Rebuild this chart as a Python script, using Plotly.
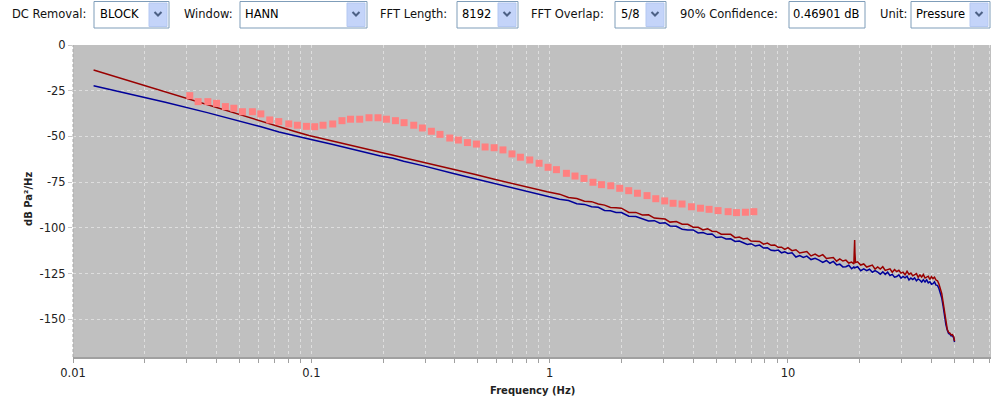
import plotly.graph_objects as go

# ---------------- data ----------------
freq_low = [0.0122, 0.0244, 0.0366, 0.0488, 0.061, 0.0732, 0.0854, 0.0977, 0.122, 0.146, 0.171, 0.195,
            0.22, 0.244, 0.293, 0.342, 0.391, 0.44, 0.488, 0.586, 0.684, 0.781, 0.879, 0.977]
red_low = [-13.7, -25.8, -32.6, -37.6, -41.6, -44.6, -47.3, -49.5, -52.4, -54.8, -57.0, -58.7,
           -60.3, -61.7, -64.1, -66.2, -68.0, -69.5, -70.9, -73.4, -75.5, -77.3, -79.0, -80.3]
blue_low = [-22.3, -31.3, -37.0, -41.2, -44.6, -47.6, -49.8, -51.4, -54.3, -56.8, -58.8, -60.7,
            -62.0, -63.6, -66.0, -68.4, -70.2, -71.8, -73.2, -75.6, -77.8, -79.6, -81.2, -82.6]

freq_mid = [1.1, 1.2, 1.3, 1.4, 1.5, 1.6, 1.7, 1.8, 1.9, 2.0, 2.15, 2.3, 2.45, 2.6, 2.75, 2.9, 3.05,
            3.2, 3.4, 3.6, 3.8, 4.0, 4.2, 4.4, 4.6, 4.8, 5.0, 5.25, 5.5, 5.75, 6.0, 6.25, 6.5, 6.75,
            7.0, 7.3, 7.6, 7.9, 8.2, 8.5, 8.8, 9.1, 9.4, 9.7, 10.0]
red_mid = [-81.6, -83.4, -84.0, -85.5, -85.7, -87.0, -87.6, -88.9, -89.1, -89.3, -91.6, -91.6, -93.0,
           -92.9, -94.7, -95.0, -95.2, -96.9, -96.6, -98.1, -98.1, -99.7, -99.7, -101.2, -100.5,
           -101.9, -102.0, -103.5, -103.5, -103.6, -105.4, -105.1, -106.1, -105.7, -107.3, -107.5,
           -107.5, -109.0, -108.4, -109.6, -109.4, -110.7, -110.6, -111.8, -110.9]
blue_mid = [-84.4, -85.1, -86.8, -87.2, -88.5, -88.8, -90.5, -90.7, -91.6, -91.7, -93.7, -93.8, -95.1,
            -96.3, -96.1, -97.5, -97.2, -99.0, -99.2, -100.8, -101.2, -101.2, -102.8, -102.6, -103.6,
            -103.4, -105.3, -105.0, -106.1, -106.0, -107.5, -107.3, -108.2, -109.1, -108.7, -110.0,
            -109.5, -111.1, -111.0, -112.3, -112.5, -112.2, -113.7, -113.2, -114.0]

freq_high = [10.4, 10.8, 11.2, 11.6, 12.0, 12.5, 13.0, 13.5, 14.0, 14.5, 15.0, 15.5, 16.0, 16.5, 17.0,
             17.5, 18.0, 18.5, 18.9, 19.0, 19.05, 19.1, 19.2, 19.6, 20.2, 20.8, 21.4, 22.0, 22.6,
             23.2, 23.8, 24.4, 25.0, 25.6, 26.2, 26.8, 27.4, 28.0, 28.6, 29.2, 29.8, 30.4, 31.0,
             31.6, 32.2, 32.8, 33.4, 34.0, 34.6, 35.2, 35.8, 36.4, 37.0, 37.6, 38.2, 38.8, 39.4,
             40.0, 40.6, 41.2, 41.8]
red_high = [-112.5, -112.0, -113.8, -113.3, -113.0, -115.4, -114.4, -115.7, -114.7, -116.8, -116.6,
            -116.3, -118.3, -117.0, -118.2, -117.7, -119.3, -118.8, -119.8, -112.0, -106.7, -113.5,
            -119.0, -118.6, -120.4, -119.8, -121.5, -120.9, -120.4, -122.6, -121.4, -122.6, -121.3,
            -123.3, -122.9, -122.5, -124.3, -122.9, -124.0, -123.3, -124.8, -124.3, -125.7, -123.8,
            -125.5, -124.8, -126.3, -125.6, -125.1, -127.1, -125.8, -126.9, -125.6, -127.5, -127.0,
            -126.5, -128.3, -126.7, -127.8, -127.0, -128.6]
blue_high = [-113.7, -116.0, -115.2, -116.2, -115.5, -117.4, -116.7, -117.7, -119.0, -117.9, -119.4,
             -118.4, -120.3, -119.9, -121.4, -121.3, -120.5, -122.4, -121.4, -122.1, -121.6, -121.9,
             -121.7, -121.3, -123.5, -122.5, -123.5, -122.7, -124.3, -123.4, -124.3, -125.4, -124.1,
             -125.5, -124.3, -126.1, -125.5, -127.0, -126.7, -125.8, -127.6, -126.6, -127.4, -126.5,
             -128.6, -127.5, -128.3, -127.4, -129.0, -128.0, -128.7, -129.7, -128.4, -129.7, -128.5,
             -130.1, -129.5, -130.9, -130.6, -129.6, -131.4]

freq_drop = [42.4, 43.0, 43.6, 44.2, 44.8, 45.4, 46.0, 46.6, 47.2, 47.8, 48.4, 49.0, 49.6, 50.0]
red_drop = [-129.0, -130.8, -133.5, -136.0, -141.0, -147.0, -152.0, -155.5, -157.2, -157.6, -158.6,
            -158.4, -159.6, -162.0]
blue_drop = [-131.5, -133.2, -135.8, -138.5, -143.0, -148.5, -153.0, -156.0, -157.8, -158.2, -159.2,
             -159.0, -160.2, -162.5]

pink_f = [0.0309, 0.0335, 0.0368, 0.0400, 0.0436, 0.0473, 0.0514, 0.0566, 0.0614, 0.0669, 0.0730,
          0.0804, 0.0874, 0.0954, 0.1033, 0.112, 0.123, 0.1345, 0.146, 0.1596, 0.1746, 0.1905,
          0.2066, 0.2254, 0.245, 0.269, 0.2925, 0.319, 0.3467, 0.381, 0.414, 0.452, 0.493, 0.536,
          0.585, 0.637, 0.695, 0.754, 0.825, 0.903, 0.985, 1.068, 1.176, 1.278, 1.394, 1.52, 1.65,
          1.805, 1.968, 2.147, 2.336, 2.563, 2.788, 3.04, 3.296, 3.594, 3.936, 4.294, 4.667, 5.09,
          5.61, 6.08, 6.63, 7.19]
pink_db = [-27.7, -31.0, -31.0, -31.9, -33.7, -34.6, -36.5, -36.5, -37.7, -41.0, -41.9, -43.2, -43.9,
           -44.5, -44.7, -43.9, -43.2, -41.4, -40.6, -40.6, -39.8, -39.8, -40.6, -41.4, -42.5, -43.9,
           -45.4, -47.2, -48.9, -50.9, -52.0, -53.4, -54.2, -55.8, -56.2, -57.4, -59.6, -61.4, -62.9,
           -64.7, -66.9, -68.2, -70.2, -71.7, -73.0, -75.1, -76.4, -77.0, -78.4, -79.7, -81.1, -82.4,
           -84.1, -85.3, -86.6, -87.0, -88.5, -89.3, -89.9, -90.6, -91.2, -91.7, -91.5, -91.2]

y_ticks = [0, -25, -50, -75, -100, -125, -150]
x_decades = [0.01, 0.1, 1, 10]
x_decade_labels = ["0.01", "0.1", "1", "10"]

# toolbar content
tool_labels = ["DC Removal:", "Window:", "FFT Length:", "FFT Overlap:", "90% Confidence:", "Unit:"]
tool_values = ["BLOCK", "HANN", "8192", "5/8", "0.46901 dB", "Pressure"]
tool_dropdown = [True, True, True, True, False, True]

# ---------------- layout helpers ----------------
W, H = 994, 400
ML, MR, MT, MB = 73, 3, 45, 43
PW = W - ML - MR
PH = H - MT - MB


def px(x):
    return (x - ML) / PW


def py(y):
    return (H - MB - y) / PH


freq = freq_low + freq_mid + freq_high + freq_drop
red = red_low + red_mid + red_high + red_drop
blue = blue_low + blue_mid + blue_high + blue_drop

fig = go.Figure()
fig.add_trace(go.Scatter(x=freq, y=blue, mode="lines", line=dict(color="#000099", width=1.5),
                         showlegend=False, hoverinfo="skip"))
fig.add_trace(go.Scatter(x=freq, y=red, mode="lines", line=dict(color="#990000", width=1.5),
                         showlegend=False, hoverinfo="skip"))
fig.add_trace(go.Scatter(x=pink_f, y=pink_db, mode="markers",
                         marker=dict(symbol="square", size=7, color="#FF8080", line=dict(width=0)),
                         showlegend=False, hoverinfo="skip"))

# x ticks: decades labelled, intermediate ones unlabelled
tickvals, ticktext = [], []
for d, lab in zip(x_decades, x_decade_labels):
    for m in range(1, 10):
        v = d * m
        if v > 71:
            break
        tickvals.append(v)
        ticktext.append(lab if m == 1 else "")

FONT = "DejaVu Sans"
fig.update_layout(
    width=W, height=H,
    margin=dict(l=ML, r=MR, t=MT, b=MB, pad=0),
    paper_bgcolor="white",
    plot_bgcolor="#C0C0C0",
    font=dict(family=FONT, size=11.5, color="#222"),
    xaxis=dict(type="log", range=[-2, 1.852], tickvals=tickvals, ticktext=ticktext,
               showgrid=True, gridcolor="#DEDEDE", griddash="3px,3px", gridwidth=1,
               ticks="outside", ticklen=4, tickcolor="#A0A0A0",
               showline=True, linecolor="#A0A0A0", linewidth=2, zeroline=False,
               tickfont=dict(family=FONT, size=11.5, color="#222")),
    yaxis=dict(range=[-170.7, 0], tickvals=y_ticks, ticktext=[str(v) for v in y_ticks],
               showgrid=True, gridcolor="#DEDEDE", griddash="3px,3px", gridwidth=1,
               ticks="outside", ticklen=4, tickcolor="#C8C8C8",
               showline=False, zeroline=False,
               tickfont=dict(family=FONT, size=11.5, color="#222")),
)

shapes = []
annotations = []
# left border of plot area (dashed gray)
shapes.append(dict(type="line", xref="paper", yref="paper", x0=0, x1=0, y0=0, y1=1,
                   line=dict(color="#A8A8A8", width=1, dash="3px,2px")))

# axis titles
annotations.append(dict(text="Frequency (Hz)", xref="paper", yref="paper", x=px(532), y=py(390),
                        xanchor="center", yanchor="middle", showarrow=False,
                        font=dict(family=FONT, size=10, color="#222", weight="bold")))
annotations.append(dict(text="dB Pa²/Hz", xref="paper", yref="paper", x=px(28), y=py(199),
                        xanchor="center", yanchor="middle", showarrow=False, textangle=-90,
                        font=dict(family=FONT, size=10, color="#222", weight="bold")))

# toolbar
label_x = [10, 182, 378, 529, 678, 878]
box_x = [(94, 169, 98), (240, 367, 243), (457, 518, 460), (615, 666, 619), (789, 865, 791),
         (911, 990, 914)]
cy = 14
for lab, lx in zip(tool_labels, label_x):
    annotations.append(dict(text=lab, xref="paper", yref="paper", x=px(lx), y=py(cy),
                            xanchor="left", yanchor="middle", showarrow=False,
                            font=dict(family=FONT, size=11.5, color="#111")))
for val, (x0, x1, tx), dd in zip(tool_values, box_x, tool_dropdown):
    shapes.append(dict(type="rect", xref="paper", yref="paper", x0=px(x0), x1=px(x1),
                       y0=py(28), y1=py(1.5), line=dict(color="#7F9DB9", width=1),
                       fillcolor="white"))
    annotations.append(dict(text=val, xref="paper", yref="paper", x=px(tx), y=py(cy),
                            xanchor="left", yanchor="middle", showarrow=False,
                            font=dict(family=FONT, size=11.5, color="#000")))
    if dd:
        bx0, bx1 = x1 - 20, x1 - 2
        shapes.append(dict(type="rect", xref="paper", yref="paper", x0=px(bx0), x1=px(bx1),
                           y0=py(26.5), y1=py(3), line=dict(color="#B4C8F2", width=1),
                           fillcolor="#C4D4F9"))
        cx = (bx0 + bx1) / 2
        path = "M {} {} L {} {} L {} {}".format(px(cx - 3.5), py(cy - 2), px(cx), py(cy + 1.5),
                                                px(cx + 3.5), py(cy - 2))
        shapes.append(dict(type="path", xref="paper", yref="paper", path=path,
                           line=dict(color="#4D6185", width=2)))

fig.update_layout(shapes=shapes, annotations=annotations)
fig.write_html("out.html")
